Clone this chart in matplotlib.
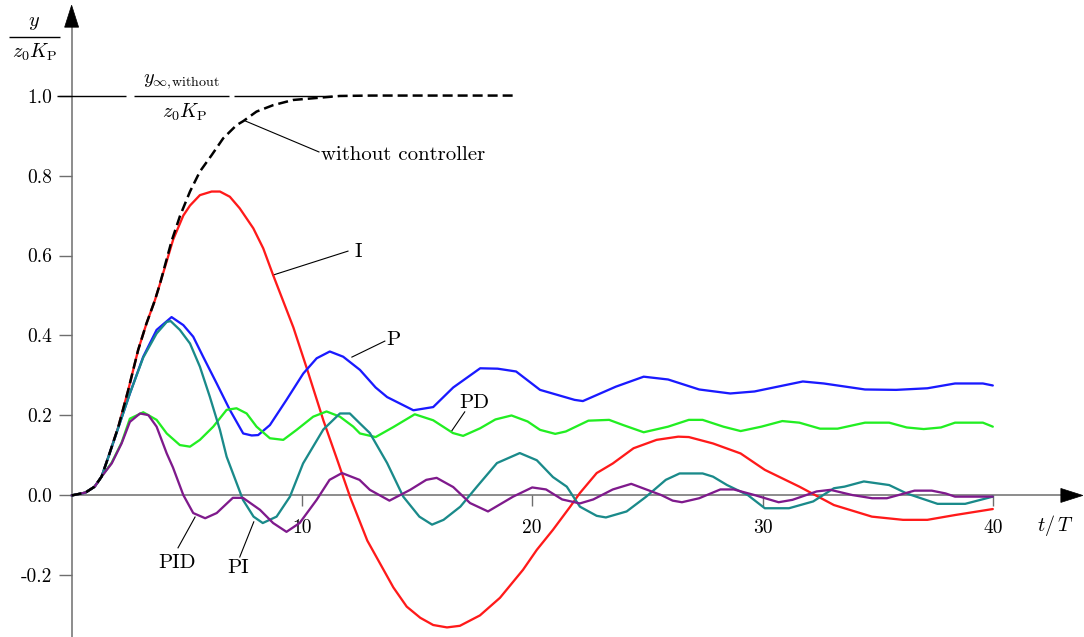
import matplotlib
matplotlib.use('Agg')
import matplotlib.pyplot as plt
from matplotlib.patches import Polygon
from matplotlib.transforms import ScaledTranslation

plt.rcParams['font.family'] = ['cmr10', 'DejaVu Serif']
plt.rcParams['mathtext.fontset'] = 'cm'
plt.rcParams['axes.unicode_minus'] = False

# ---------------- data ----------------
t_none = [0, 0.6, 1.0, 1.3, 1.6, 2.03, 2.46, 2.89, 3.25, 3.61, 3.83, 4.34, 4.7,
          5.14, 5.57, 6.08, 6.58, 7.16, 7.45, 8.03, 8.75, 9.62, 10.64, 11.65,
          13, 15, 17, 19.2]
y_none = [0, 0.007, 0.022, 0.047, 0.097, 0.172, 0.264, 0.364, 0.43, 0.487,
          0.528, 0.636, 0.698, 0.76, 0.81, 0.851, 0.893, 0.926, 0.936, 0.96,
          0.976, 0.989, 0.994, 0.999, 1.0, 1.0, 1.0, 1.0]

t_I = [0, 0.6, 1.0, 1.3, 1.6, 2.03, 2.46, 2.89, 3.25, 3.61, 3.83, 4.41, 4.85,
       5.14, 5.57, 6.08, 6.44, 6.87, 7.3, 7.89, 8.32, 8.75, 9.63, 10.24, 10.93,
       11.54, 12.1, 12.84, 13.97, 14.55, 15.14, 15.7, 16.3, 16.86, 17.73, 18.6,
       19.6, 20.2, 20.9, 21.65, 22.07, 22.8, 23.5, 24.4, 25.4, 26.34, 26.8,
       27.85, 29.05, 30.1, 31.6, 33.1, 34.75, 36.1, 37.16, 38.36, 40]
y_I = [0, 0.007, 0.022, 0.047, 0.097, 0.172, 0.264, 0.364, 0.43, 0.487, 0.528,
       0.64, 0.7, 0.725, 0.751, 0.76, 0.76, 0.747, 0.718, 0.668, 0.618,
       0.551, 0.42, 0.313, 0.188, 0.088, -0.005, -0.113, -0.23, -0.278,
       -0.306, -0.324, -0.33, -0.326, -0.3, -0.256, -0.186, -0.136, -0.086,
       -0.028, 0.006, 0.056, 0.08, 0.118, 0.139, 0.147, 0.146, 0.13, 0.105,
       0.064, 0.022, -0.024, -0.053, -0.061, -0.061, -0.049, -0.034]

t_P = [0, 0.6, 1.0, 1.3, 1.6, 2.03, 2.53, 3.11, 3.69, 4.34, 4.85, 5.28, 5.71,
       6.3, 6.87, 7.45, 7.82, 8.1, 8.61, 9.33, 10.06, 10.64, 11.21, 11.79,
       12.52, 13.2, 13.7, 14.84, 15.7, 16.57, 17.74, 18.5, 19.3, 20.34, 21.84,
       22.2, 23.63, 24.84, 25.9, 27.25, 28.6, 29.65, 31.75, 32.66, 34.45, 35.8,
       37.16, 38.36, 39.57, 40]
y_P = [0, 0.007, 0.022, 0.047, 0.097, 0.17, 0.255, 0.347, 0.414, 0.446, 0.426,
       0.397, 0.347, 0.28, 0.214, 0.155, 0.15, 0.151, 0.176, 0.239, 0.305,
       0.343, 0.36, 0.347, 0.314, 0.27, 0.246, 0.213, 0.221, 0.27, 0.318,
       0.317, 0.31, 0.264, 0.239, 0.236, 0.272, 0.297, 0.29, 0.265, 0.255,
       0.26, 0.285, 0.28, 0.265, 0.264, 0.268, 0.28, 0.28, 0.275]

t_PD = [0, 0.58, 1.0, 1.3, 1.74, 2.17, 2.53, 3.11, 3.69, 4.13, 4.7, 5.14, 5.57,
        6.15, 6.73, 7.16, 7.6, 8.03, 8.61, 9.19, 9.77, 10.49, 11.07, 11.65,
        12.23, 12.52, 13.2, 13.97, 14.9, 15.7, 16.56, 17.0, 17.74, 18.4, 19.1,
        19.8, 20.34, 21.0, 21.46, 22.44, 23.34, 23.95, 24.84, 25.9, 26.8, 27.4,
        28.3, 29.05, 29.95, 30.86, 31.6, 32.5, 33.26, 34.45, 35.5, 36.26, 37.0,
        37.75, 38.36, 39.57, 40]
y_PD = [0, 0.007, 0.022, 0.047, 0.082, 0.132, 0.192, 0.208, 0.189, 0.155,
        0.126, 0.122, 0.139, 0.172, 0.214, 0.218, 0.205, 0.172, 0.143, 0.139,
        0.164, 0.197, 0.21, 0.197, 0.172, 0.155, 0.146, 0.171, 0.203, 0.188,
        0.156, 0.149, 0.168, 0.19, 0.2, 0.185, 0.164, 0.154, 0.16, 0.187,
        0.189, 0.176, 0.158, 0.172, 0.189, 0.189, 0.172, 0.161, 0.172, 0.186,
        0.182, 0.167, 0.167, 0.182, 0.182, 0.17, 0.166, 0.17, 0.182, 0.182,
        0.172]

t_PI = [0, 0.6, 1.0, 1.3, 1.6, 2.03, 2.53, 3.11, 3.69, 4.13, 4.3, 4.7, 5.14,
        5.57, 6.0, 6.44, 6.73, 7.44, 7.9, 8.3, 8.9, 9.48, 10.05, 10.93, 11.65,
        12.08, 12.52, 12.95, 13.7, 14.4, 15.1, 15.65, 16.15, 16.88, 17.6, 18.47,
        19.46, 20.2, 20.9, 21.5, 22.07, 22.8, 23.2, 24.1, 24.95, 25.8, 26.4,
        27.4, 27.85, 28.46, 29.36, 30.1, 31.15, 32.2, 33.1, 33.56, 34.4, 35.5,
        36.26, 37.6, 38.8, 40]
y_PI = [0, 0.007, 0.022, 0.047, 0.097, 0.17, 0.255, 0.345, 0.405, 0.434, 0.436,
        0.414, 0.38, 0.322, 0.247, 0.164, 0.097, -0.011, -0.053, -0.069, -0.053,
        -0.003, 0.08, 0.165, 0.205, 0.205, 0.18, 0.156, 0.081, -0.003, -0.053,
        -0.073, -0.061, -0.028, 0.022, 0.081, 0.106, 0.088, 0.046, 0.022,
        -0.028, -0.051, -0.055, -0.04, -0.003, 0.039, 0.055, 0.055, 0.047,
        0.026, 0.001, -0.032, -0.032, -0.015, 0.018, 0.022, 0.035, 0.026,
        0.005, -0.021, -0.021, -0.003]

t_PID = [0, 0.58, 1.0, 1.3, 1.74, 2.17, 2.53, 2.97, 3.33, 3.69, 4.13, 4.4, 4.85,
         5.28, 5.8, 6.3, 7.0, 7.44, 8.18, 8.75, 9.33, 9.9, 10.64, 11.2, 11.74,
         12.5, 12.95, 13.8, 14.7, 15.4, 15.85, 16.57, 17.3, 18.08, 19.17, 20.0,
         20.6, 21.3, 22.07, 22.65, 23.5, 24.3, 24.95, 25.6, 26.1, 26.5, 27.25,
         28.17, 28.75, 29.65, 30.7, 31.3, 32.35, 32.95, 33.9, 34.76, 35.4, 36.6,
         37.35, 37.95, 38.36, 40]
y_PID = [0, 0.007, 0.022, 0.047, 0.08, 0.13, 0.184, 0.205, 0.201, 0.172, 0.105,
         0.07, 0.001, -0.044, -0.057, -0.044, -0.006, -0.006, -0.036, -0.069,
         -0.091, -0.069, -0.011, 0.039, 0.056, 0.039, 0.014, -0.013, 0.014,
         0.039, 0.044, 0.021, -0.019, -0.04, -0.003, 0.02, 0.015, -0.01, -0.02,
         -0.01, 0.015, 0.029, 0.015, 0.001, -0.013, -0.017, -0.007, 0.015,
         0.015, 0.001, -0.017, -0.011, 0.01, 0.014, 0.001, -0.007, -0.007,
         0.012, 0.012, 0.005, -0.003, -0.003]

x_ticks = [10, 20, 30, 40]
x_tick_labels = ['10', '20', '30', '40']
y_ticks = [-0.2, 0.0, 0.2, 0.4, 0.6, 0.8, 1.0]
y_tick_labels = ['-0.2', '0.0', '0.2', '0.4', '0.6', '0.8', '1.0']

# ---------------- figure ----------------
fig = plt.figure(figsize=(10.84, 6.37), dpi=100)
ax = fig.add_axes([0, 0, 1, 1])
XMIN, XMAX = -3.11, 43.96
YMIN, YMAX = -0.354, 1.239
ax.set_xlim(XMIN, XMAX)
ax.set_ylim(YMIN, YMAX)
ax.patch.set_visible(False)

axcol = '#6e6e6e'
for s in ('top', 'right'):
    ax.spines[s].set_visible(False)
ax.spines['left'].set_position(('data', 0))
ax.spines['bottom'].set_position(('data', 0))
ax.spines['left'].set_bounds(YMIN, 1.18)
ax.spines['bottom'].set_bounds(0, 43.0)
for s in ('left', 'bottom'):
    ax.spines[s].set_color(axcol)
    ax.spines[s].set_linewidth(1.1)
    ax.spines[s].set_zorder(1)

ax.set_xticks(x_ticks, labels=x_tick_labels)
ax.set_yticks(y_ticks, labels=y_tick_labels)
ax.tick_params(axis='x', direction='out', length=8, width=1.0, color=axcol,
               pad=9, labelsize=14)
ax.tick_params(axis='y', direction='out', length=9.5, width=1.0, color=axcol,
               pad=4.5, labelsize=14)

# arrow heads
def arrow_head(x, y, verts):
    tr = fig.dpi_scale_trans + ScaledTranslation(x, y, ax.transData)
    ax.add_patch(Polygon(verts, closed=True, transform=tr, facecolor='black',
                         edgecolor='black', lw=0.5, clip_on=False, zorder=5))

arrow_head(0, 1.226, [(0, 0), (-0.07, -0.22), (0.07, -0.22)])
arrow_head(43.91, 0, [(0, 0), (-0.22, 0.07), (-0.22, -0.07)])

# reference line at 1.0 with fraction label
lk = dict(color='black', lw=1.0, zorder=2, solid_capstyle='butt')
ax.plot([-0.64, 2.36], [1.0, 1.0], **lk)
ax.plot([2.73, 6.83], [1.0, 1.0], **lk)
ax.plot([7.07, 11.3], [1.0, 1.0], **lk)
ax.text(4.79, 1.012, r'$y_{\infty,\!\mathrm{without}}$', ha='center',
        va='bottom', fontsize=14.5)
ax.text(4.92, 0.986, r'$z_0 K_\mathrm{P}$', ha='center', va='top', fontsize=14.5)

# y-axis label fraction
ax.plot([-2.74, -0.5], [1.1475, 1.1475], **lk)
ax.text(-1.62, 1.158, r'$y$', ha='center', va='bottom', fontsize=14.5)
ax.text(-1.59, 1.134, r'$z_0 K_\mathrm{P}$', ha='center', va='top',
        fontsize=14.5)

ax.text(42.7, -0.074, r'$t/\,T$', ha='center', va='center', fontsize=14.5)

# curves
lw = 1.65
ck = dict(lw=lw, zorder=3, solid_joinstyle='round', solid_capstyle='round')
ax.plot(t_I, y_I, color='#ff1a1a', **ck)
ax.plot(t_P, y_P, color='#1a1aff', **ck)
ax.plot(t_PD, y_PD, color='#22ee22', **ck)
ax.plot(t_PI, y_PI, color='#1a8a8a', **ck)
ax.plot(t_PID, y_PID, color='#7f1a8c', **ck)
ax.plot(t_none, y_none, color='black', lw=1.8, dashes=(4, 2), zorder=4,
        dash_joinstyle='round')

# labels with leader lines
def label(txt, xt, yt, x0, y0, x1, y1, ha='center'):
    ax.plot([x0, x1], [y0, y1], color='black', lw=0.8, zorder=2)
    ax.text(xt, yt, txt, ha=ha, va='center', fontsize=15)

label('without controller', 10.81, 0.851, 7.52, 0.937, 10.74, 0.859, ha='left')
label('I', 12.43, 0.609, 8.74, 0.551, 12.0, 0.611)
label('P', 13.95, 0.389, 12.17, 0.346, 13.6, 0.386)
label('PD', 17.5, 0.231, 16.5, 0.161, 17.07, 0.209)
label('PID', 4.57, -0.169, 5.36, -0.054, 4.62, -0.131)
label('PI', 7.22, -0.181, 7.91, -0.066, 7.3, -0.154)

fig.savefig('out.png', dpi=100)
